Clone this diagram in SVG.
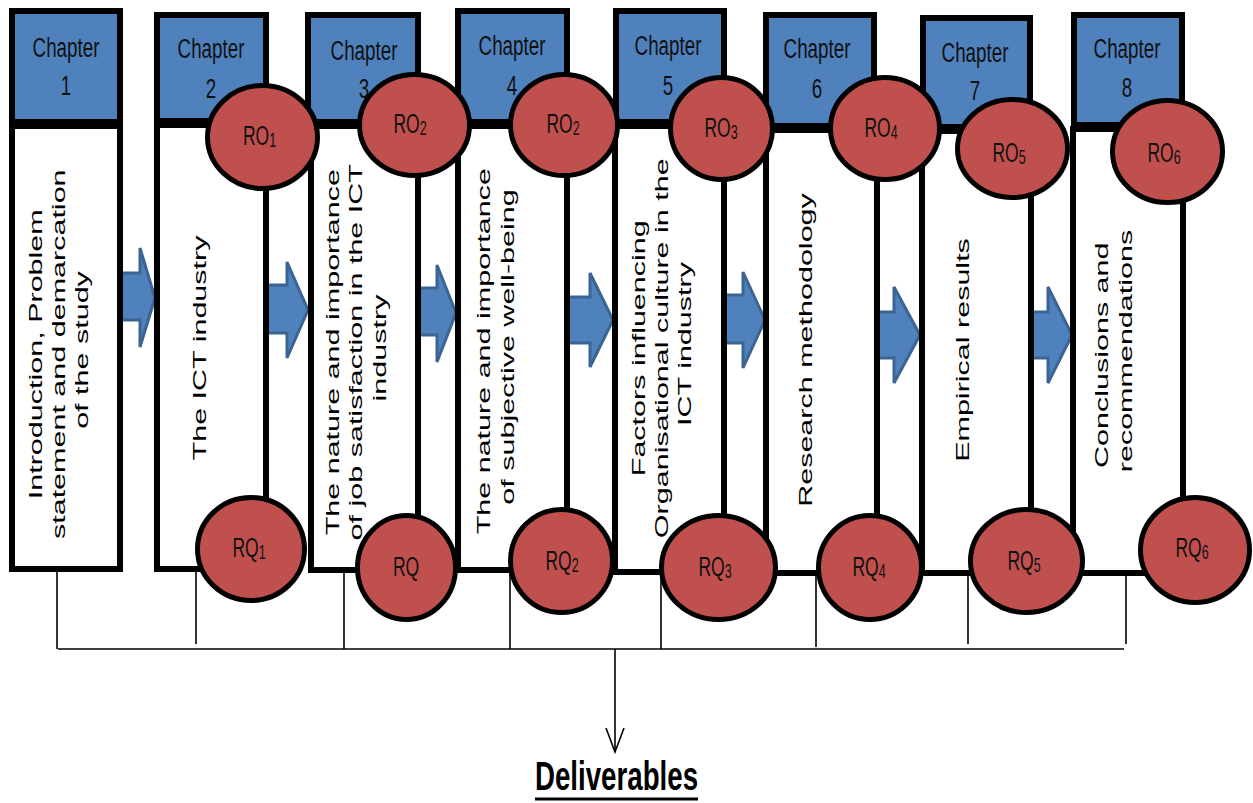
<svg xmlns="http://www.w3.org/2000/svg" width="1253" height="803" viewBox="0 0 1253 803">
  <style>
    .hdr { fill: #4F81BD; stroke: #000; stroke-width: 6; }
    .body { fill: #fff; stroke: #000; stroke-width: 6; }
    .ro { fill: #C0504D; stroke: #000; stroke-width: 5; }
    .blk { fill: #4F81BD; stroke: #3C6493; stroke-width: 3; stroke-linejoin: miter; }
    .thin { fill: none; stroke: #000; stroke-width: 1.6; }
    .ht { font-family: "Liberation Sans", Arial, sans-serif; font-size: 18.8px; fill: #111; text-anchor: middle; }
    .rt { font-family: "Liberation Sans", Arial, sans-serif; font-size: 17.5px; fill: #111; text-anchor: middle; }
    .sub { font-size: 12.5px; }
    .vt { font-family: "Liberation Sans", Arial, sans-serif; font-size: 18.5px; fill: #000; text-anchor: middle; }
    .del { font-family: "Liberation Sans", Arial, sans-serif; font-size: 27.7px; font-weight: bold; fill: #000; text-anchor: middle; }
  </style>
  <rect width="1253" height="803" fill="#fff"/>

  <!-- flow arrows and collecting lines -->
  <g id="connectors">
    <polygon class="blk" points="115,273 140,273 140,248 155,298 140,347 140,320 115,320"/>
    <polygon class="blk" points="262,285 287,285 287,262 308,310 287,358 287,333 262,333"/>
    <polygon class="blk" points="414,288 437,288 437,265 456,313 437,362 437,335 414,335"/>
    <polygon class="blk" points="562,297 590,297 590,273 613,320 590,367 590,343 562,343"/>
    <polygon class="blk" points="720,295 743,295 743,272 765,320 743,368 743,343 720,343"/>
    <polygon class="blk" points="872,312 894,312 894,287 920,335 894,383 894,358 872,358"/>
    <polygon class="blk" points="1026,312 1048,312 1048,287 1072,335 1048,383 1048,358 1026,358"/>

    <line class="thin" x1="57" y1="572" x2="57" y2="649"/>
    <line class="thin" x1="196" y1="570" x2="196" y2="644"/>
    <line class="thin" x1="344" y1="572" x2="344" y2="649"/>
    <line class="thin" x1="510" y1="572" x2="510" y2="649"/>
    <line class="thin" x1="661" y1="574" x2="661" y2="649"/>
    <line class="thin" x1="816" y1="575" x2="816" y2="647"/>
    <line class="thin" x1="968" y1="575" x2="968" y2="644"/>
    <line class="thin" x1="1126" y1="568" x2="1126" y2="644"/>
    <line class="thin" x1="58" y1="649" x2="1124" y2="649"/>
    <line class="thin" x1="615" y1="649" x2="615" y2="752"/>
    <polyline class="thin" points="606,728 615,752 624,728"/>
  </g>

  <!-- chapter columns -->
  <g id="chapter1">
    <rect class="hdr" x="12" y="11" width="108" height="111"/>
    <rect class="body" x="12" y="126" width="108" height="443"/>
    <text class="ht" transform="translate(66,57) scale(1,1.5)">Chapter</text>
    <text class="ht" transform="translate(66,95) scale(1,1.5)">1</text>
    <text class="vt" transform="translate(0,350) scale(1,1.65) rotate(-90)">
      <tspan x="0" y="42">Introduction, Problem</tspan>
      <tspan x="0" y="65">statement and demarcation</tspan>
      <tspan x="0" y="88">of the study</tspan>
    </text>
  </g>

  <g id="chapter2">
    <rect class="hdr" x="157" y="15" width="109" height="106"/>
    <rect class="body" x="157" y="125" width="109" height="444"/>
    <text class="ht" transform="translate(211,58) scale(1,1.5)">Chapter</text>
    <text class="ht" transform="translate(211,98) scale(1,1.5)">2</text>
    <text class="vt" transform="translate(0,348) scale(1,1.65) rotate(-90)">
      <tspan x="0" y="206">The ICT industry</tspan>
    </text>
  </g>

  <g id="chapter3">
    <rect class="hdr" x="308" y="15" width="110" height="107"/>
    <rect class="body" x="311" y="126" width="107" height="444"/>
    <text class="ht" transform="translate(364,60) scale(1,1.5)">Chapter</text>
    <text class="ht" transform="translate(364,98) scale(1,1.5)">3</text>
    <text class="vt" transform="translate(0,348) scale(1,1.65) rotate(-90)">
      <tspan x="0" y="339">The nature and importance</tspan>
      <tspan x="0" y="362.5">of job satisfaction in the ICT</tspan>
      <tspan x="0" y="386">industry</tspan>
    </text>
  </g>

  <g id="chapter4">
    <rect class="hdr" x="458" y="11" width="109" height="111"/>
    <rect class="body" x="458" y="126" width="109" height="444"/>
    <text class="ht" transform="translate(512,55) scale(1,1.5)">Chapter</text>
    <text class="ht" transform="translate(512,95) scale(1,1.5)">4</text>
    <text class="vt" transform="translate(0,347) scale(1,1.65) rotate(-90)">
      <tspan x="0" y="490">The nature and importance</tspan>
      <tspan x="0" y="514">of subjective well-being</tspan>
    </text>
  </g>

  <g id="chapter5">
    <rect class="hdr" x="616" y="11" width="108" height="111"/>
    <rect class="body" x="615" y="126" width="109" height="446"/>
    <text class="ht" transform="translate(668,55) scale(1,1.5)">Chapter</text>
    <text class="ht" transform="translate(668,95) scale(1,1.5)">5</text>
    <text class="vt" transform="translate(0,344) scale(1,1.65) rotate(-90)">
      <tspan x="0" y="645">Factors influencing</tspan>
      <tspan x="0" y="668">Organisational culture in the</tspan>
      <tspan x="0" y="691">ICT industry</tspan>
    </text>
  </g>

  <g id="chapter6">
    <rect class="hdr" x="766" y="15" width="108" height="111"/>
    <rect class="body" x="766" y="130" width="111" height="443"/>
    <text class="ht" transform="translate(817,58) scale(1,1.5)">Chapter</text>
    <text class="ht" transform="translate(817,98) scale(1,1.5)">6</text>
    <text class="vt" transform="translate(0,350) scale(1,1.65) rotate(-90)">
      <tspan x="0" y="812">Research methodology</tspan>
    </text>
  </g>

  <g id="chapter7">
    <rect class="hdr" x="923" y="18" width="107" height="109"/>
    <rect class="body" x="922" y="131" width="109" height="442"/>
    <text class="ht" transform="translate(975,62) scale(1,1.5)">Chapter</text>
    <text class="ht" transform="translate(975,100) scale(1,1.5)">7</text>
    <text class="vt" transform="translate(0,350) scale(1,1.65) rotate(-90)">
      <tspan x="0" y="969">Empirical results</tspan>
    </text>
  </g>

  <g id="chapter8">
    <rect class="hdr" x="1074" y="15" width="108" height="110"/>
    <rect class="body" x="1073" y="129" width="110" height="444"/>
    <text class="ht" transform="translate(1127,58) scale(1,1.5)">Chapter</text>
    <text class="ht" transform="translate(1127,97) scale(1,1.5)">8</text>
    <text class="vt" transform="translate(0,351) scale(1,1.65) rotate(-90)">
      <tspan x="0" y="1108">Conclusions and</tspan>
      <tspan x="0" y="1132">recommendations</tspan>
    </text>
  </g>

  <!-- research objectives -->
  <g id="ro1"><ellipse class="ro" cx="262.5" cy="137" rx="55" ry="51.5"/>
    <text class="rt" transform="translate(259.5,145) scale(1,1.6)">RO<tspan class="sub" dy="1">1</tspan></text></g>
  <g id="ro2a"><ellipse class="ro" cx="414.5" cy="125" rx="55" ry="50.5"/>
    <text class="rt" transform="translate(410,133) scale(1,1.6)">RO<tspan class="sub" dy="1">2</tspan></text></g>
  <g id="ro2b"><ellipse class="ro" cx="564" cy="125" rx="53.5" ry="50.5"/>
    <text class="rt" transform="translate(563,133) scale(1,1.6)">RO<tspan class="sub" dy="1">2</tspan></text></g>
  <g id="ro3"><ellipse class="ro" cx="721.5" cy="128.5" rx="51" ry="51"/>
    <text class="rt" transform="translate(721,137) scale(1,1.6)">RO<tspan class="sub" dy="1">3</tspan></text></g>
  <g id="ro4"><ellipse class="ro" cx="885" cy="128.5" rx="54.5" ry="51"/>
    <text class="rt" transform="translate(881,137) scale(1,1.6)">RO<tspan class="sub" dy="1">4</tspan></text></g>
  <g id="ro5"><ellipse class="ro" cx="1012.5" cy="148.5" rx="55" ry="49"/>
    <text class="rt" transform="translate(1009,162) scale(1,1.6)">RO<tspan class="sub" dy="1">5</tspan></text></g>
  <g id="ro6"><ellipse class="ro" cx="1167.5" cy="151.5" rx="55" ry="51"/>
    <text class="rt" transform="translate(1164,162) scale(1,1.6)">RO<tspan class="sub" dy="1">6</tspan></text></g>

  <!-- research questions -->
  <g id="rq1"><ellipse class="ro" cx="251" cy="549" rx="53.5" ry="51.5"/>
    <text class="rt" transform="translate(249,557) scale(1,1.6)">RQ<tspan class="sub" dy="1">1</tspan></text></g>
  <g id="rq"><ellipse class="ro" cx="406.5" cy="567.5" rx="49" ry="52"/>
    <text class="rt" transform="translate(406,576) scale(1,1.6)">RQ</text></g>
  <g id="rq2"><ellipse class="ro" cx="561.5" cy="561" rx="51" ry="51.5"/>
    <text class="rt" transform="translate(562,570) scale(1,1.6)">RQ<tspan class="sub" dy="1">2</tspan></text></g>
  <g id="rq3"><ellipse class="ro" cx="718.5" cy="567.5" rx="57" ry="52"/>
    <text class="rt" transform="translate(715,576) scale(1,1.6)">RQ<tspan class="sub" dy="1">3</tspan></text></g>
  <g id="rq4"><ellipse class="ro" cx="870" cy="567.5" rx="51.5" ry="52"/>
    <text class="rt" transform="translate(869,576) scale(1,1.6)">RQ<tspan class="sub" dy="1">4</tspan></text></g>
  <g id="rq5"><ellipse class="ro" cx="1026.5" cy="561" rx="56" ry="51.5"/>
    <text class="rt" transform="translate(1024,570) scale(1,1.6)">RQ<tspan class="sub" dy="1">5</tspan></text></g>
  <g id="rq6"><ellipse class="ro" cx="1195" cy="550" rx="54.5" ry="52.5"/>
    <text class="rt" transform="translate(1192,557) scale(1,1.6)">RQ<tspan class="sub" dy="1">6</tspan></text></g>

  <!-- outcome label -->
  <g id="deliverables">
    <text class="del" transform="translate(616.5,790) scale(1,1.46)">Deliverables</text>
    <line x1="535" y1="799" x2="698" y2="799" stroke="#000" stroke-width="3"/>
  </g>
</svg>
